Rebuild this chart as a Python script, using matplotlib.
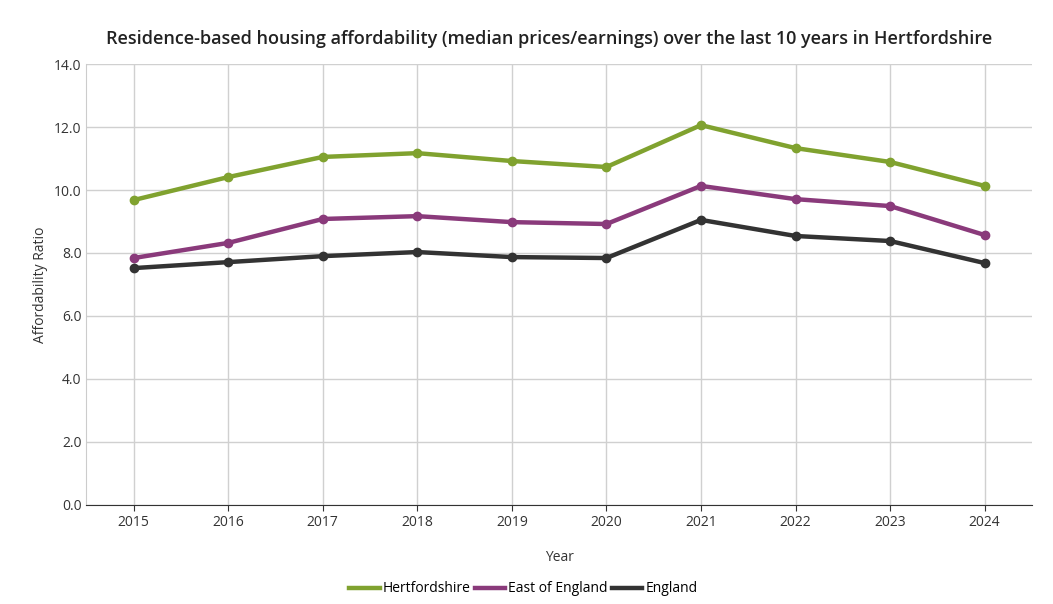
import matplotlib.pyplot as plt
from matplotlib.lines import Line2D

plt.rcParams['font.family'] = ['Open Sans', 'DejaVu Sans']

years = [2015, 2016, 2017, 2018, 2019, 2020, 2021, 2022, 2023, 2024]
hertfordshire = [9.68, 10.41, 11.05, 11.17, 10.92, 10.73, 12.06, 11.33, 10.89, 10.13]
east_of_england = [7.84, 8.32, 9.08, 9.17, 8.98, 8.92, 10.13, 9.71, 9.49, 8.57]
england = [7.52, 7.71, 7.90, 8.03, 7.87, 7.84, 9.05, 8.54, 8.38, 7.68]

fig = plt.figure(figsize=(10.53, 6.04), dpi=100)
ax = fig.add_axes([0.082, 0.164, 0.898, 0.730])

series = [("Hertfordshire", hertfordshire, "#80a22f"),
          ("East of England", east_of_england, "#8a3a7b"),
          ("England", england, "#333333")]
handles = []
for name, vals, col in series:
    ax.plot(years, vals, color=col, linewidth=3.2, marker='o', markersize=6)
    handles.append(Line2D([], [], color=col, linewidth=3.2, label=name))

ax.set_xlim(2014.5, 2024.5)
ax.set_ylim(0, 14)
ax.set_xticks(years)
ax.set_yticks([0, 2, 4, 6, 8, 10, 12, 14])
ax.set_yticklabels([f"{v:.1f}" for v in range(0, 15, 2)])
ax.grid(True, color='#d0d0d0', linewidth=1)
ax.set_axisbelow(True)
for s in ['top', 'right']:
    ax.spines[s].set_visible(False)
ax.spines['left'].set_color('#cccccc')
ax.spines['bottom'].set_color('#333333')
ax.tick_params(colors='#333333', labelsize=10, length=4)
ax.tick_params(axis='y', length=0)
ax.set_xlabel("Year", fontsize=10, color='#333333', labelpad=14)
ax.set_ylabel("Affordability Ratio", fontsize=10, color='#333333')
fig.text(0.101, 0.935, "Residence-based housing affordability (median prices/earnings) over the last 10 years in Hertfordshire",
         fontsize=13, color='#222222', ha='left', va='center', fontweight='semibold')
fig.legend(handles=handles, loc='center', bbox_to_anchor=(0.497, 0.025), ncol=3, frameon=False, fontsize=10,
           handlelength=2.2, handletextpad=0.2, columnspacing=0.3)
fig.savefig("out.png", dpi=100)
